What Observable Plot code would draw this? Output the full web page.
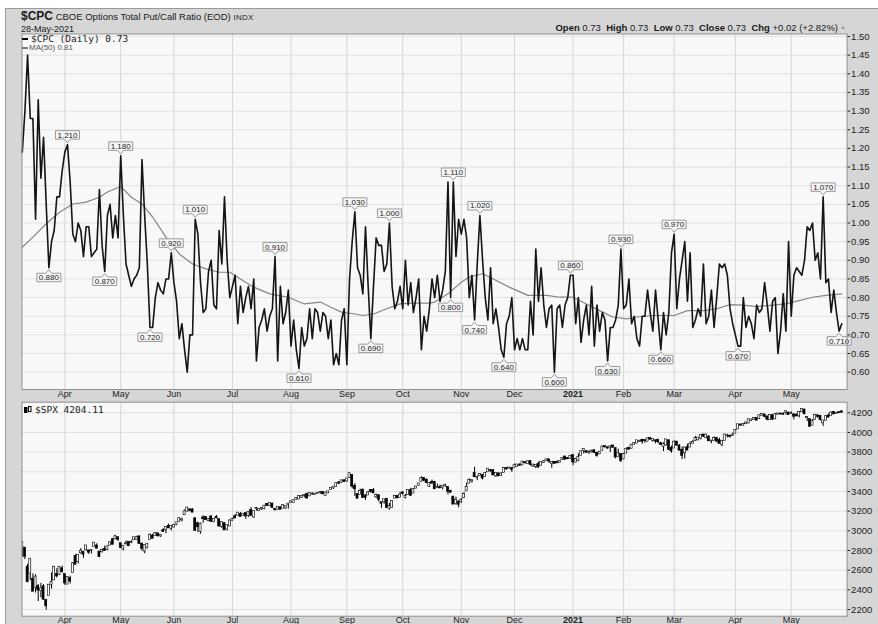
<!DOCTYPE html>
<html><head><meta charset="utf-8">
<script src="https://cdn.jsdelivr.net/npm/d3@7"></script>
<script src="https://cdn.jsdelivr.net/npm/@observablehq/plot@0.6"></script>
<style>
body{margin:0;width:878px;height:624px;overflow:hidden;background:#fff;position:relative;font-family:"Liberation Sans",Arial,sans-serif;color:#1a1a1a;}
#bg{position:absolute;left:5px;top:8px;right:0;bottom:0;background:#d6d6d6;border-left:1px solid #9a9a9a;border-top:1px solid #9a9a9a;}
.abs{position:absolute;white-space:nowrap;}
.mono{font-family:"DejaVu Sans Mono",monospace;}
.dash{display:inline-block;width:6px;height:2px;vertical-align:middle;margin-right:3px;}
</style></head><body>
<div id="bg"></div>
<div id="top" class="abs" style="left:0;top:0"></div>
<div id="bot" class="abs" style="left:0;top:400px"></div>
<div class="abs" style="left:21px;top:9px;line-height:14px;font-size:9.5px;"><b style="font-size:12px">$CPC</b> CBOE Options Total Put/Call Ratio (EOD) <span style="font-size:8px;letter-spacing:0.3px">INDX</span></div>
<div class="abs" style="left:21px;top:23.5px;line-height:11px;font-size:9px;">28-May-2021</div>
<div id="ohlc" class="abs" style="right:40px;top:21.5px;line-height:11px;font-size:9.5px;"></div>
<div class="abs" style="left:840px;top:22px;line-height:10px;font-size:6px;color:#999;">&#9650;</div>
<div id="leg1" class="abs mono" style="left:22px;top:33.5px;line-height:10px;font-size:9.5px;"></div>
<div id="leg2" class="abs" style="left:22px;top:44px;line-height:8px;font-size:8px;color:#555;"></div>
<div id="leg3" class="abs mono" style="left:24px;top:403.5px;line-height:11px;font-size:9.5px;"></div>
<script>
// ---- data ----
const startIdx = -16; // first bar: 10-Mar-2020 (trading-day index, 0 = 1-Apr-2020)
const monthIdx   = [0, 21, 41, 63, 85, 106, 127, 149, 169, 191, 210, 229, 252, 273];
const monthLabel = ["Apr","May","Jun","Jul","Aug","Sep","Oct","Nov","Dec","2021","Feb","Mar","Apr","May"];
const cpcTicks = [0.60,0.65,0.70,0.75,0.80,0.85,0.90,0.95,1.00,1.05,1.10,1.15,1.20,1.25,1.30,1.35,1.40,1.45,1.50];
const spxTicks = [2200,2400,2600,2800,3000,3200,3400,3600,3800,4000,4200];

const cpc = [
 1.19,1.30,1.45,1.28,1.28,1.01,1.33,1.12,1.23,1.05,0.88,0.95,0.98,1.07,1.07,1.14,
 1.19,1.21,1.11,0.97,0.95,1.00,0.98,0.91,0.99,0.99,0.91,0.92,0.93,1.09,0.94,0.87,1.02,1.05,0.96,1.02,0.96,
 1.18,1.02,0.89,0.86,0.83,0.85,0.86,0.88,1.17,1.02,0.89,0.72,0.72,0.80,0.84,0.82,0.81,0.85,0.85,0.92,
 0.84,0.79,0.69,0.73,0.66,0.60,0.70,0.70,1.01,0.97,0.84,0.76,0.77,0.87,0.90,0.78,0.77,0.98,0.89,1.07,0.90,0.80,
 0.83,0.86,0.73,0.83,0.76,0.80,0.83,0.77,0.85,0.63,0.72,0.74,0.77,0.71,0.75,0.77,0.91,0.63,0.83,0.73,0.76,0.82,
 0.67,0.74,0.66,0.61,0.72,0.67,0.69,0.77,0.69,0.77,0.76,0.71,0.76,0.75,0.69,0.74,0.62,0.65,0.62,0.74,0.77,
 0.62,0.85,0.95,1.03,0.88,0.86,0.81,0.99,0.83,0.69,0.83,0.96,0.94,0.94,0.87,0.89,1.00,0.83,0.77,0.79,0.83,
 0.77,0.90,0.78,0.84,0.76,0.80,0.85,0.66,0.75,0.71,0.77,0.85,0.80,0.86,0.79,0.82,0.87,1.11,0.80,1.11,0.91,1.01,
 0.97,1.01,0.96,0.80,0.86,0.74,0.89,1.02,0.90,0.80,0.74,0.88,0.73,0.77,0.72,0.66,0.64,0.73,0.75,0.80,
 0.66,0.69,0.66,0.69,0.66,0.66,0.79,0.70,0.93,0.79,0.88,0.78,0.72,0.77,0.78,0.60,0.77,0.78,0.72,0.78,0.80,0.86,
 0.86,0.73,0.80,0.68,0.74,0.78,0.70,0.83,0.67,0.78,0.71,0.76,0.74,0.63,0.72,0.72,0.74,0.78,0.93,
 0.77,0.78,0.85,0.73,0.75,0.69,0.67,0.75,0.75,0.82,0.76,0.71,0.82,0.74,0.66,0.76,0.70,0.76,0.92,
 0.97,0.77,0.85,0.90,0.95,0.79,0.92,0.72,0.74,0.77,0.75,0.89,0.73,0.75,0.82,0.72,0.80,0.89,0.88,0.89,0.86,0.77,0.73,
 0.70,0.67,0.67,0.80,0.72,0.75,0.73,0.69,0.78,0.76,0.77,0.84,0.78,0.71,0.79,0.80,0.65,0.71,0.81,0.71,0.95,
 0.75,0.86,0.88,0.87,0.86,0.90,0.99,0.98,1.00,0.90,0.92,0.85,1.07,0.84,0.85,0.76,0.82,0.76,0.71,0.73
];
const maIdx = [-16,-12,-7,-2,3,8,13,16,21,25,29,33,38,43,48,53,58,62,66,71,77,84,90,96,100,104,109,112,116,121,126,131,137,139,144,149,152,157,161,167,174,181,186,191,196,201,206,211,215,221,229,234,240,245,250,255,260,265,271,276,281,286,292];
const maVal = [0.935,0.962,0.998,1.029,1.051,1.056,1.069,1.083,1.098,1.069,1.051,1.016,0.962,0.917,0.890,0.877,0.868,0.868,0.850,0.828,0.810,0.801,0.783,0.788,0.774,0.761,0.756,0.752,0.756,0.770,0.783,0.785,0.785,0.788,0.810,0.841,0.855,0.864,0.850,0.828,0.806,0.806,0.801,0.801,0.783,0.765,0.748,0.743,0.748,0.752,0.752,0.765,0.765,0.770,0.781,0.780,0.776,0.779,0.783,0.792,0.801,0.806,0.810];
const peakIdx   = [1,21,40,49,79,109,122,146,156,190,209,229,285];
const troughIdx = [-6,15,32,88,115,145,154,165,184,204,224,253,291];

const spxOpen = [
 2813,2825,2630,2569,2509,2425,2436,2393,2431,2291,2344,2457,2501,2556,2558,2614,
 2555,2458,2515,2578,2738,2686,2776,2782,2806,2796,2799,2842,2846,2784,2787,2810,2812,2855,2909,2918,2931,
 2869,2815,2868,2884,2879,2909,2915,2939,2865,2794,2829,2913,2948,2954,2969,2948,3004,3016,3047,3026,
 3038,3064,3098,3111,3163,3199,3213,3213,3123,3072,2994,3131,3136,3102,3141,3095,3138,3115,3047,3074,3018,3050,
 3105,3143,3155,3166,3154,3176,3152,3206,3141,3226,3209,3224,3224,3269,3255,3272,3218,3219,3234,3228,3232,3270,
 3289,3289,3317,3323,3340,3357,3371,3355,3373,3368,3380,3388,3392,3360,3386,3419,3435,3449,3486,3494,3509,
 3507,3543,3564,3453,3371,3369,3413,3353,3364,3408,3411,3347,3357,3285,3295,3321,3226,3237,3333,3350,3341,
 3385,3339,3367,3408,3384,3434,3459,3500,3534,3515,3453,3493,3494,3440,3439,3439,3464,3441,3403,3343,3277,3293,
 3296,3336,3406,3485,3508,3583,3543,3563,3562,3552,3600,3611,3612,3559,3580,3566,3595,3635,3638,3634,
 3645,3654,3669,3670,3694,3683,3706,3659,3656,3675,3667,3696,3713,3722,3684,3698,3693,3694,3723,3751,3736,3734,
 3764,3698,3712,3764,3816,3803,3801,3803,3814,3789,3782,3816,3857,3844,3851,3863,3837,3755,3778,
 3731,3791,3840,3837,3878,3892,3910,3921,3917,3911,3940,3918,3915,3921,3885,3857,3873,3915,3839,
 3842,3903,3863,3819,3793,3844,3851,3891,3916,3925,3943,3974,3950,3953,3913,3917,3938,3919,3879,3918,3969,3963,3967,
 3993,4035,4075,4074,4089,4096,4124,4130,4141,4140,4175,4179,4159,4129,4171,4138,4185,4188,4185,4206,4198,
 4191,4180,4177,4169,4210,4228,4150,4130,4074,4130,4170,4165,4098,4121,4168,4170,4205,4191,4201,4210
];
const spxHigh = [
 2882,2825,2660,2711,2562,2553,2453,2466,2453,2300,2449,2572,2637,2615,2631,2641,
 2555,2533,2538,2677,2757,2760,2819,2783,2852,2801,2807,2880,2868,2785,2815,2844,2842,2887,2922,2955,2931,
 2870,2844,2898,2890,2901,2932,2945,2945,2875,2852,2865,2968,2965,2981,2978,2957,3021,3036,3068,3049,
 3062,3081,3131,3129,3212,3233,3222,3224,3123,3089,3079,3154,3141,3121,3156,3121,3155,3115,3086,3074,3053,3111,
 3128,3166,3182,3185,3172,3179,3186,3236,3200,3238,3220,3233,3258,3277,3280,3280,3227,3242,3243,3264,3250,3272,
 3302,3307,3330,3352,3353,3364,3382,3387,3387,3378,3387,3396,3399,3390,3399,3432,3444,3482,3501,3510,3514,
 3528,3588,3564,3479,3379,3425,3425,3369,3403,3420,3429,3375,3362,3285,3320,3323,3278,3306,3361,3358,3393,
 3397,3369,3409,3432,3426,3447,3482,3549,3535,3527,3489,3516,3502,3476,3465,3461,3466,3441,3410,3343,3342,3305,
 3330,3389,3486,3529,3521,3646,3558,3581,3569,3593,3628,3624,3620,3585,3582,3589,3643,3636,3645,3634,
 3678,3670,3682,3699,3697,3708,3712,3678,3665,3698,3695,3712,3725,3726,3702,3698,3711,3703,3740,3757,3744,3760,
 3770,3738,3783,3811,3826,3817,3811,3820,3823,3796,3805,3860,3862,3852,3860,3870,3837,3830,3779,
 3784,3843,3848,3872,3894,3915,3919,3932,3925,3937,3950,3933,3921,3931,3902,3895,3929,3925,3862,
 3914,3906,3875,3853,3851,3881,3903,3918,3960,3944,3970,3981,3983,3969,3918,3956,3950,3942,3919,3978,3981,3969,3994,
 4021,4084,4087,4083,4098,4129,4131,4148,4151,4173,4191,4180,4160,4175,4180,4194,4194,4193,4201,4219,4199,
 4209,4187,4187,4202,4238,4236,4162,4134,4132,4184,4172,4169,4117,4172,4188,4209,4214,4203,4213,4218
];
const spxLow = [
 2734,2707,2478,2492,2380,2367,2281,2319,2295,2192,2344,2407,2500,2520,2545,2571,
 2447,2455,2459,2575,2657,2663,2762,2721,2794,2761,2765,2842,2820,2727,2775,2794,2798,2852,2860,2912,2892,
 2822,2797,2856,2844,2870,2906,2909,2869,2794,2767,2816,2913,2922,2954,2938,2934,2988,2970,3024,2999,
 3032,3051,3090,3090,3163,3196,3193,3185,2999,2984,2966,3076,3109,3094,3084,3082,3127,3033,3024,3004,2999,3047,
 3101,3125,3155,3142,3144,3116,3136,3153,3128,3200,3198,3206,3215,3247,3253,3230,3200,3215,3216,3228,3219,3220,
 3284,3287,3317,3318,3329,3335,3322,3355,3363,3362,3379,3371,3369,3354,3379,3414,3423,3444,3468,3486,3493,
 3494,3535,3427,3349,3329,3366,3330,3310,3363,3384,3384,3328,3293,3229,3271,3232,3209,3229,3333,3327,3340,
 3362,3323,3367,3354,3384,3428,3458,3500,3500,3480,3441,3483,3419,3439,3433,3415,3441,3364,3388,3268,3259,3234,
 3279,3336,3405,3485,3484,3543,3511,3557,3518,3552,3600,3595,3567,3543,3556,3553,3595,3618,3630,3594,
 3645,3645,3657,3670,3678,3679,3660,3646,3633,3645,3660,3685,3710,3685,3636,3676,3689,3690,3723,3720,3730,3726,
 3663,3696,3705,3764,3783,3790,3776,3790,3792,3749,3780,3816,3845,3831,3796,3847,3732,3755,3694,
 3725,3791,3822,3837,3874,3892,3903,3880,3890,3906,3923,3901,3885,3884,3868,3805,3860,3814,3789,
 3842,3868,3818,3723,3730,3819,3851,3885,3916,3915,3924,3949,3935,3910,3885,3917,3905,3889,3854,3917,3944,3943,3966,
 3993,4035,4069,4068,4082,4096,4114,4124,4120,4140,4171,4150,4119,4126,4123,4138,4182,4182,4181,4176,4175,
 4188,4128,4160,4148,4202,4188,4111,4057,4074,4130,4143,4125,4061,4121,4151,4170,4183,4190,4198,4203
];
const spxClose = [
 2882,2741,2481,2711,2386,2529,2398,2409,2305,2237,2447,2476,2630,2541,2627,2585,
 2470,2527,2489,2664,2660,2750,2790,2762,2846,2783,2800,2875,2823,2737,2799,2798,2837,2878,2863,2940,2912,
 2830,2843,2868,2848,2882,2930,2930,2870,2820,2852,2864,2954,2923,2972,2949,2955,2992,3036,3030,3044,
 3056,3081,3123,3112,3194,3232,3207,3190,3002,3041,3067,3125,3113,3115,3098,3118,3131,3050,3084,3009,3053,3100,
 3116,3130,3180,3145,3169,3152,3185,3155,3197,3227,3216,3225,3251,3257,3276,3236,3216,3239,3218,3258,3246,3271,
 3295,3306,3327,3349,3351,3360,3333,3380,3373,3373,3381,3390,3375,3385,3397,3431,3443,3479,3485,3508,3500,
 3527,3580,3455,3427,3331,3398,3340,3341,3384,3401,3385,3357,3319,3281,3315,3237,3246,3298,3351,3335,3363,
 3380,3348,3408,3361,3419,3446,3477,3534,3512,3489,3483,3484,3427,3443,3436,3453,3465,3401,3391,3271,3310,3270,
 3310,3370,3443,3510,3509,3550,3545,3572,3537,3585,3627,3610,3568,3582,3558,3578,3635,3629,3638,3622,
 3662,3669,3666,3699,3692,3702,3673,3668,3663,3647,3695,3702,3722,3709,3695,3687,3690,3703,3735,3727,3732,3756,
 3701,3727,3748,3804,3825,3799,3801,3810,3795,3768,3799,3852,3853,3841,3855,3849,3750,3787,3714,
 3774,3826,3830,3871,3887,3915,3911,3910,3916,3935,3932,3931,3914,3906,3876,3881,3925,3829,3811,
 3901,3870,3820,3768,3842,3821,3875,3899,3939,3943,3969,3963,3974,3915,3913,3940,3911,3889,3910,3975,3971,3959,3973,
 4020,4078,4074,4080,4097,4129,4128,4142,4125,4170,4185,4163,4135,4173,4135,4180,4188,4187,4184,4211,4181,
 4192,4165,4168,4202,4233,4189,4152,4063,4113,4174,4163,4128,4116,4160,4156,4197,4188,4195,4200,4204.11
];

// ---- build tables ----
[spxOpen, spxHigh, spxLow, spxClose].forEach((a, k) => {
  if (a.length !== cpc.length) throw new Error("length mismatch " + k + ": " + a.length + " vs " + cpc.length);
});
const cpcData = cpc.map((v, k) => ({i: startIdx + k, v}));
const maData = maIdx.map((i, k) => ({i, v: maVal[k]}));
const spx = spxClose.map((c, k) => ({i: startIdx + k, o: spxOpen[k], h: spxHigh[k], l: spxLow[k], c}));
const valAt = i => cpc[i - startIdx];
const fmt3 = d3.format(".3f");
const peaks = peakIdx.map(i => ({i, v: valAt(i), t: fmt3(valAt(i))}));
const troughs = troughIdx.map(i => ({i, v: valAt(i), t: fmt3(valAt(i))}));
const months = monthIdx.map((i, k) => ({i, label: monthLabel[k]}));
const monthsN = months.filter(d => d.label !== "2021");
const monthsB = months.filter(d => d.label === "2021");

const boxUp = {draw(ctx) {
  ctx.moveTo(-12, -14); ctx.lineTo(12, -14); ctx.lineTo(12, -5.5); ctx.lineTo(3, -5.5);
  ctx.lineTo(0, -2); ctx.lineTo(-3, -5.5); ctx.lineTo(-12, -5.5); ctx.closePath();
}};
const boxDown = {draw(ctx) {
  ctx.moveTo(-12, 14); ctx.lineTo(12, 14); ctx.lineTo(12, 5.5); ctx.lineTo(3, 5.5);
  ctx.lineTo(0, 2); ctx.lineTo(-3, 5.5); ctx.lineTo(-12, 5.5); ctx.closePath();
}};

const common = {
  width: 878, marginLeft: 21.5, marginRight: 31.4,
  style: {background: "transparent", fontFamily: "Liberation Sans, Arial, sans-serif", color: "#222", overflow: "visible"},
  x: {domain: [-16.1, 294], axis: null}
};
const gridStroke = {stroke: "#e2e2e2", strokeOpacity: 1};
const vgrid = {stroke: "#d6d6d6", strokeOpacity: 1};

const topChart = Plot.plot({
  ...common, height: 400, marginTop: 33.5, marginBottom: 11,
  y: {domain: [0.5536, 1.5067], axis: null},
  marks: [
    Plot.frame({fill: "#f8f8f8", stroke: null}),
    Plot.gridY(cpcTicks, gridStroke),
    Plot.gridX(monthIdx, vgrid),
    Plot.line(maData, {x: "i", y: "v", stroke: "#858585", strokeWidth: 1.2}),
    Plot.line(cpcData, {x: "i", y: "v", stroke: "#151515", strokeWidth: 1.6}),
    Plot.dot(peaks, {x: "i", y: "v", symbol: boxUp, fill: "#f5f5f5", stroke: "#9a9a9a", strokeWidth: 1}),
    Plot.text(peaks, {x: "i", y: "v", text: "t", dy: -9.6, fontSize: 8, fill: "#222"}),
    Plot.dot(troughs, {x: "i", y: "v", symbol: boxDown, fill: "#f5f5f5", stroke: "#9a9a9a", strokeWidth: 1}),
    Plot.text(troughs, {x: "i", y: "v", text: "t", dy: 10, fontSize: 8, fill: "#222"}),
    Plot.frame({stroke: "#8f8f8f"}),
    Plot.axisY(cpcTicks, {anchor: "right", tickSize: 2.5, tickPadding: 1.5, tickFormat: ".2f", fontSize: 9.5, label: null}),
    Plot.text(monthsN, {x: "i", text: "label", frameAnchor: "bottom", dy: 7.5, fontSize: 9, fill: "#222"}),
    Plot.text(monthsB, {x: "i", text: "label", frameAnchor: "bottom", dy: 7.5, fontSize: 9, fontWeight: "bold", fill: "#222"})
  ]
});
document.getElementById("top").append(topChart);

const botChart = Plot.plot({
  ...common, height: 224, marginTop: 1.7, marginBottom: 8.3,
  y: {domain: [2131.9, 4307.8], axis: null},
  marks: [
    Plot.frame({fill: "#f8f8f8", stroke: null}),
    Plot.gridY(spxTicks, gridStroke),
    Plot.gridX(monthIdx, vgrid),
    Plot.ruleX(spx, {x: "i", y1: "l", y2: "h", stroke: "#000", strokeWidth: 1, clip: true}),
    Plot.rect(spx, {x1: d => d.i - 0.38, x2: d => d.i + 0.38, y1: "o", y2: "c",
      fill: d => d.c >= d.o ? "#ffffff" : "#000000", stroke: "#000", strokeWidth: 0.6,
      insetTop: -0.5, insetBottom: -0.5, clip: true}),
    Plot.frame({stroke: "#8f8f8f"}),
    Plot.axisY(spxTicks, {anchor: "right", tickSize: 2.5, tickPadding: 1.5, tickFormat: "d", fontSize: 9.5, label: null}),
    Plot.text(monthsN, {x: "i", text: "label", frameAnchor: "bottom", dy: 7, fontSize: 9, fill: "#222"}),
    Plot.text(monthsB, {x: "i", text: "label", frameAnchor: "bottom", dy: 7, fontSize: 9, fontWeight: "bold", fill: "#222"})
  ]
});
document.getElementById("bot").append(botChart);

// ---- header & legends from data ----
const last = cpc[cpc.length - 1], prev = cpc[cpc.length - 2];
const f2 = d3.format(".2f");
const chg = last - prev;
document.getElementById("ohlc").innerHTML =
  `<b>Open</b> ${f2(last)} &nbsp;<b>High</b> ${f2(last)} &nbsp;<b>Low</b> ${f2(last)} &nbsp;<b>Close</b> ${f2(last)} &nbsp;<b>Chg</b> ${d3.format("+.2f")(chg)} (${d3.format("+.2f")(chg / prev * 100)}%)`;
document.getElementById("leg1").innerHTML =
  `<span class="dash" style="background:#000"></span>$CPC (Daily) ${f2(last)}`;
document.getElementById("leg2").innerHTML =
  `<span class="dash" style="background:#777;height:1.5px;margin-right:1px"></span>MA(50) ${f2(maVal[maVal.length - 1])}`;
document.getElementById("leg3").innerHTML =
  `<svg width="8" height="8" style="vertical-align:middle;margin-right:3px"><rect x="0.5" y="1.5" width="2.5" height="5" fill="#000" stroke="#000"/><rect x="4.5" y="0.5" width="2.5" height="5" fill="#fff" stroke="#000"/></svg>$SPX ${d3.format(".2f")(spxClose[spxClose.length - 1])}`;
</script>
</body></html>
